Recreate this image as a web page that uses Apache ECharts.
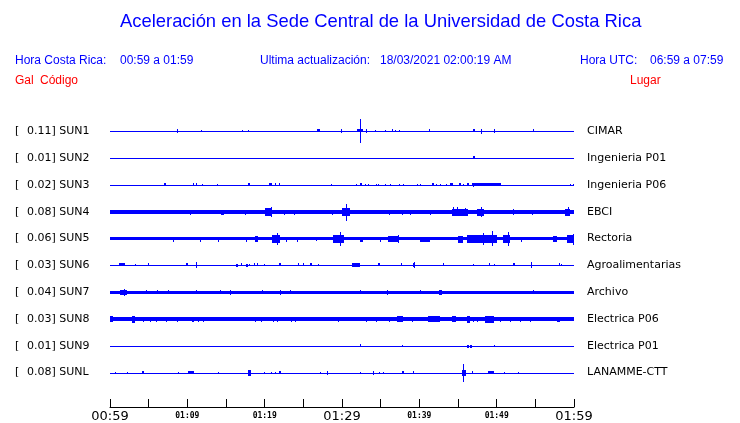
<!DOCTYPE html>
<html><head><meta charset="utf-8">
<script src="https://cdn.jsdelivr.net/npm/echarts@6/dist/echarts.min.js"></script>
<style>html,body{margin:0;padding:0;background:#fff}#c{width:740px;height:423px}</style>
</head><body><div id="c"></div>
<script>
// ---- data ----
const stations = ['SUN1','SUN2','SUN3','SUN4','SUN5','SUN6','SUN7','SUN8','SUN9','SUNL'];
const peakGal = [0.11, 0.01, 0.02, 0.08, 0.06, 0.03, 0.04, 0.03, 0.01, 0.08];
const places = ['CIMAR','Ingenieria P01','Ingenieria P06','EBCI','Rectoria','Agroalimentarias','Archivo','Electrica P06','Electrica P01','LANAMME-CTT'];
const tickLabels = ['00:59','01:09','01:19','01:29','01:39','01:49','01:59']; // every 10 minutes
// background noise half-amplitude, % of trace spacing
const noiseLevel = [0, 0, 0, 7, 6, 0, 5, 7, 0, 0];
// events: [start minute, end minute, half-amplitude % of trace spacing] (minutes after 00:59)
const sun1Events = [[8.6,8.6,7],[11.8,11.8,4],[17.1,17.1,4],[17.9,17.9,4],[26.8,27.1,6],[29.9,29.9,7],
  [32.0,32.75,6],[32.37,32.37,44],[33.1,33.1,7],[34.3,34.3,4],[35.6,35.6,4],[36.5,36.5,6],[36.9,36.9,4],
  [37.4,37.4,4],[41.2,41.2,6],[46.9,47.2,6],[48.0,48.0,9],[49.6,49.6,7],[54.7,54.7,6]];
const sun2Events = [[46.9,47.2,6]];
const sun3Events = [[7.0,7.3,6],[10.7,10.9,6],[11.1,11.3,6],[11.9,11.9,4],[13.9,13.9,4],[17.8,18.1,6],
  [20.6,20.9,6],[21.4,21.4,6],[21.9,21.9,6],[28.6,28.6,4],[31.8,31.8,4],[32.3,32.6,6],[33.0,33.0,4],
  [33.3,33.3,4],[34.4,34.4,4],[34.7,34.7,4],[35.5,35.5,4],[36.2,36.2,4],[37.4,37.4,4],[37.9,37.9,4],
  [39.7,39.7,4],[40.1,40.1,4],[41.6,41.9,6],[42.1,42.1,4],[42.7,42.7,4],[43.4,43.4,4],[44.0,44.3,6],
  [45.1,45.4,6],[45.6,45.6,4],[46.1,46.4,6],[46.8,50.6,6],[46.9,47.1,8],[59.5,59.5,4],[59.9,59.9,4]];
const sun4Events = [[10.4,10.4,9],[14.4,14.7,9],[17.4,17.4,9],[20.0,20.9,15],[20.78,20.78,19],[22.5,22.5,9],
  [23.8,23.8,9],[28.7,28.7,9],[30.0,31.0,15],[30.2,30.2,11],[30.5,30.5,31],[36.1,36.1,9],[37.7,37.7,9],
  [38.8,38.8,9],[41.4,41.4,9],[44.2,46.3,13],[44.4,44.4,17],[44.9,44.9,17],[45.9,45.9,15],
  [47.4,48.3,13],[48.0,48.0,19],[52.1,52.1,11],[54.6,54.6,9],[58.8,59.5,13],[59.2,59.2,17]];
const sun5Events = [[8.2,8.2,9],[11.6,11.6,9],[14.0,14.0,9],[17.6,17.6,9],[18.75,19.2,11],[20.9,22.0,15],
  [21.56,21.56,22],[22.8,22.8,9],[24.2,24.2,9],[26.6,26.6,7],[28.9,30.2,15],[29.74,29.74,26],
  [32.3,32.7,9],[34.9,34.9,9],[35.95,37.24,11],[37.28,37.28,15],[40.1,41.4,9],[45.0,45.65,13],
  [46.1,50.0,15],[48.23,48.23,22],[49.36,49.36,28],[50.8,51.7,15],[51.5,51.5,26],[53.2,53.2,9],
  [57.3,57.8,11],[59.06,60,15],[59.87,59.87,20]];
const sun6Events = [[1.1,1.9,6],[3.2,3.2,4],[4.9,4.9,6],[9.8,10.1,6],[11.1,11.1,11],[16.3,16.6,5],
  [17.0,17.1,6],[17.6,17.9,5],[18.0,18.0,4],[18.6,18.8,6],[19.0,19.2,6],[19.95,19.95,4],[21.9,22.1,6],
  [24.35,24.35,6],[25.0,25.0,6],[25.9,26.1,6],[26.9,26.9,4],[31.25,32.3,7],[34.7,34.9,6],
  [37.6,37.6,6],[39.2,39.4,7],[39.3,39.3,11],[43.0,43.2,6],[47.0,47.0,4],[49.0,49.0,6],[49.6,49.6,4],
  [52.1,52.4,6],[54.4,54.4,11],[58.0,58.0,6],[58.3,58.3,4]];
const sun7Events = [[1.3,2.2,9],[1.81,1.81,13],[4.6,4.6,7],[6.1,6.1,7],[7.5,7.5,7],[11.1,11.1,7],
  [14.2,14.2,7],[15.5,15.5,9],[19.6,19.6,7],[22.0,22.0,9],[23.3,23.3,7],[32.3,32.3,7],[35.8,35.8,9],
  [40.1,40.1,7],[42.6,42.9,9],[54.7,54.7,7]];
const sun8Events = [[0,0.4,11],[2.8,3.2,13],[4.3,4.3,9],[5.2,5.2,9],[6.0,6.0,9],[7.2,7.2,9],[8.6,8.6,9],
  [10.6,10.8,9],[11.4,11.5,9],[12.0,12.1,9],[18.75,18.75,9],[19.5,19.5,9],[21.1,21.1,9],[21.6,21.6,9],
  [23.4,23.4,9],[23.9,23.9,9],[29.5,29.5,9],[33.1,33.1,9],[34.4,34.4,9],[36.1,36.1,9],[37.07,37.93,11],
  [39.1,39.1,9],[41.1,42.7,11],[44.2,44.8,11],[46.1,46.55,13],[47.0,47.0,9],[47.4,47.4,9],
  [48.5,49.6,13],[50.4,50.4,9],[51.7,51.7,9],[53.0,53.0,9],[54.3,54.3,9],[57.8,58.2,9]];
const sun9Events = [[32.3,32.3,6],[37.8,37.8,4],[46.1,46.4,5],[46.6,46.8,5],[49.6,49.6,4]];
const sunlEvents = [[0.65,0.65,4],[2.24,2.24,4],[4.2,4.4,6],[8.8,8.8,4],[10.1,10.8,6],[14.0,14.0,4],
  [17.8,18.2,11],[19.95,19.95,4],[20.8,20.8,4],[21.4,21.4,4],[21.9,22.1,6],[27.1,27.1,4],[28.0,28.2,7],
  [32.3,32.3,4],[33.95,34.15,7],[34.8,34.8,4],[35.3,35.3,4],[37.7,38.0,6],[39.2,39.2,6],[45.5,46.0,11],
  [45.65,45.65,33],[46.8,47.0,6],[48.9,49.6,6],[50.9,50.9,4],[52.7,52.7,4]];
const allEvents = [sun1Events,sun2Events,sun3Events,sun4Events,sun5Events,sun6Events,sun7Events,sun8Events,sun9Events,sunlEvents];

// ---- build series data ----
const totalMin = 60;
const traceData = [];
stations.forEach((s, i) => {
  traceData.push([0, totalMin, i, noiseLevel[i]]);
  allEvents[i].forEach(e => traceData.push([e[0], e[1], i, e[2]]));
});

const blue = '#0000ff';
const chart = echarts.init(document.getElementById('c'), null, {renderer: 'canvas'});
const hdr = {fontFamily: 'Liberation Sans', fontSize: 12, fill: blue};
const red = {fontFamily: 'Liberation Sans', fontSize: 12, fill: '#ff0000'};
chart.setOption({
  animation: false,
  backgroundColor: '#fff',
  graphic: [
    {type: 'text', left: 120, top: 13, style: {text: 'Aceleración en la Sede Central de la Universidad de Costa Rica', fontFamily: 'Liberation Sans', fontSize: 18.4, fill: blue}},
    {type: 'text', left: 15, top: 55, style: Object.assign({text: 'Hora Costa Rica:'}, hdr)},
    {type: 'text', left: 120, top: 55, style: Object.assign({text: '00:59 a 01:59'}, hdr)},
    {type: 'text', left: 260, top: 55, style: Object.assign({text: 'Ultima actualización:'}, hdr)},
    {type: 'text', left: 380, top: 55, style: Object.assign({text: '18/03/2021 02:00:19 AM'}, hdr)},
    {type: 'text', left: 580, top: 55, style: Object.assign({text: 'Hora UTC:'}, hdr)},
    {type: 'text', left: 650, top: 55, style: Object.assign({text: '06:59 a 07:59'}, hdr)},
    {type: 'text', left: 15, top: 75, style: Object.assign({text: 'Gal'}, red)},
    {type: 'text', left: 40, top: 75, style: Object.assign({text: 'Código'}, red)},
    {type: 'text', left: 630, top: 75, style: Object.assign({text: 'Lugar'}, red)}
  ],
  grid: {left: 110, right: 166, top: 118, height: 270},
  xAxis: {
    type: 'value', min: 0, max: totalMin, interval: 5, offset: 21,
    axisLine: {show: true, lineStyle: {color: '#000', width: 1}},
    axisTick: {show: true, inside: true, length: 8, lineStyle: {color: '#000'}},
    splitLine: {show: false},
    axisLabel: {
      show: true, showMinLabel: true, showMaxLabel: true, margin: 3,
      formatter: v => {
        if (v % 10 !== 0) return '';
        const lbl = tickLabels[v / 10];
        return v % 30 === 0 ? '{big|' + lbl + '}' : '{small|' + lbl + '}';
      },
      rich: {
        big: {fontFamily: 'DejaVu Sans', fontSize: 13, color: '#000'},
        small: {fontFamily: 'DejaVu Sans Mono', fontSize: 8, fontWeight: 'bold', color: '#000', padding: [2, 0, 0, 0]}
      }
    }
  },
  yAxis: [
    {type: 'category', data: stations, inverse: true, position: 'left',
     axisLine: {show: false}, axisTick: {show: false}, splitLine: {show: false},
     axisLabel: {margin: 95, align: 'left', fontFamily: 'DejaVu Sans', fontSize: 11, color: '#000',
       formatter: (v, i) => '{b|[}' + peakGal[i].toFixed(2) + '] ' + v,
       rich: {b: {width: 12, fontFamily: 'DejaVu Sans', fontSize: 11, color: '#000'}}}},
    {type: 'category', data: places, inverse: true, position: 'right',
     axisLine: {show: false}, axisTick: {show: false}, splitLine: {show: false},
     axisLabel: {margin: 13, align: 'left', fontFamily: 'DejaVu Sans', fontSize: 11, color: '#000'}}
  ],
  series: [{
    type: 'custom', yAxisIndex: 0,
    data: traceData,
    renderItem: (params, api) => {
      const p0 = api.coord([api.value(0), api.value(2)]);
      const p1 = api.coord([api.value(1), api.value(2)]);
      const band = api.size([0, 1])[1];
      const h = api.value(3) / 100 * band;
      const cy = Math.round(p0[1]);
      const x0 = Math.round(p0[0]);
      const w = Math.max(1, Math.round(p1[0]) - x0);
      const hh = Math.max(1, Math.round(2 * h));
      return {type: 'rect', shape: {x: x0, y: cy - Math.round(h), width: w, height: hh},
              style: {fill: blue}};
    }
  }]
});
</script></body></html>
